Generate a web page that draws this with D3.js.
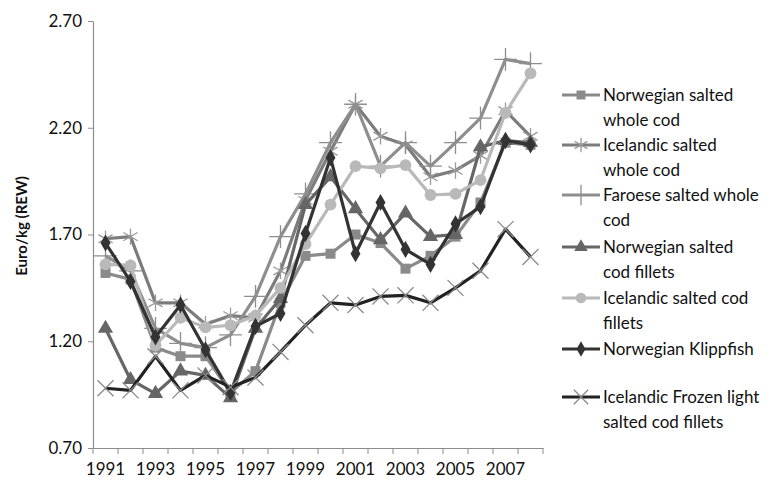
<!DOCTYPE html>
<html><head><meta charset="utf-8">
<script src="https://cdn.jsdelivr.net/npm/d3@7"></script>
<style>body{margin:0;background:#fff;} svg{display:block;}</style>
</head><body>
<svg id="chart" width="771" height="484"></svg>
<script>
const years = [1991,1992,1993,1994,1995,1996,1997,1998,1999,2000,2001,2002,2003,2004,2005,2006,2007,2008];
const yTicks = [0.70,1.20,1.70,2.20,2.70];
const xLabels = [1991,1993,1995,1997,1999,2001,2003,2005,2007];
const seriesNames = [
  ["Norwegian salted","whole cod"],
  ["Icelandic salted","whole cod"],
  ["Faroese salted whole","cod"],
  ["Norwegian salted","cod fillets"],
  ["Icelandic salted cod","fillets"],
  ["Norwegian Klippfish"],
  ["Icelandic Frozen light","salted cod fillets"]
];
const norWhole   = [1.52,1.49,1.17,1.13,1.13,0.96,1.06,1.38,1.60,1.61,1.70,1.66,1.54,1.60,1.69,1.85,2.13,2.12];
const iceWhole   = [1.68,1.69,1.38,1.38,1.28,1.32,1.31,1.53,1.86,2.09,2.31,2.16,2.12,1.97,2.00,2.07,2.28,2.16];
const faroese    = [1.60,1.53,1.26,1.19,1.17,1.23,1.41,1.69,1.89,2.13,2.31,2.02,2.13,2.02,2.13,2.245,2.52,2.50];
const norFillets = [1.26,1.02,0.955,1.06,1.04,0.935,1.26,1.40,1.84,1.97,1.82,1.675,1.80,1.69,1.70,2.11,2.14,2.13];
const iceFillets = [1.56,1.555,1.18,1.31,1.265,1.275,1.32,1.45,1.655,1.84,2.02,2.01,2.025,1.885,1.89,1.955,2.27,2.455];
const klippfish  = [1.66,1.48,1.22,1.37,1.16,0.96,1.27,1.33,1.705,2.06,1.61,1.85,1.63,1.56,1.75,1.83,2.14,2.12];
const frozen     = [0.98,0.97,1.13,0.97,1.04,0.985,1.03,1.15,1.275,1.38,1.37,1.41,1.415,1.38,1.45,1.53,1.725,1.595];

const seriesValues = [norWhole, iceWhole, faroese, norFillets, iceFillets, klippfish, frozen];
const styles = [
  {line:"#8a8a8a", mark:"#8a8a8a", sym:d3.symbolSquare, size:100, stroke:false},
  {line:"#7c7c7c", mark:"#9a9a9a", sym:d3.symbolAsterisk || d3.symbolCross, size:190, stroke:true},
  {line:"#8e8e8e", mark:"#8e8e8e", sym:d3.symbolPlus || d3.symbolCross, size:170, stroke:true},
  {line:"#666666", mark:"#666666", sym:d3.symbolTriangle, size:100, stroke:false},
  {line:"#b9b9b9", mark:"#b9b9b9", sym:d3.symbolCircle, size:110, stroke:false},
  {line:"#333333", mark:"#333333", sym:d3.symbolDiamond, size:85, stroke:false},
  {line:"#222222", mark:"#8a8a8a", sym:d3.symbolTimes || d3.symbolCross, size:170, stroke:true}
];

const svg = d3.select("#chart");
const font = "Lato, 'Open Sans', sans-serif";
const x = d3.scaleBand().domain(years).range([93,543]).padding(0);
const y = d3.scaleLinear().domain([0.7,2.7]).range([448,21]);
const cx = d => x(d) + x.bandwidth()/2;

// Y axis
const yAxis = svg.append("g").attr("transform","translate(93,0)")
  .call(d3.axisLeft(y).tickValues(yTicks).tickFormat(d3.format(".2f")).tickSize(5).tickSizeOuter(0));
yAxis.select(".domain").attr("stroke","#8c8c8c").attr("stroke-width",1.2);
yAxis.selectAll(".tick line").attr("stroke","#8c8c8c");
yAxis.selectAll(".tick text").attr("font-family",font).attr("font-size",17).attr("fill","#111").attr("x",-11);

// X axis
const xAxis = svg.append("g").attr("transform","translate(0,448)")
  .call(d3.axisBottom(x).tickValues(xLabels).tickSize(0).tickSizeOuter(0));
xAxis.select(".domain").attr("stroke","#8c8c8c").attr("stroke-width",1.2);
xAxis.selectAll(".tick text").attr("font-family",font).attr("font-size",17).attr("fill","#111").attr("dy","1.4em");
const bounds = years.map(d => x(d)).concat([x.range()[1]]);
svg.append("g").selectAll("line").data(bounds).join("line")
  .attr("x1",d=>d).attr("x2",d=>d).attr("y1",448).attr("y2",454)
  .attr("stroke","#8c8c8c");

// Axis title
svg.append("text").attr("transform","translate(27,226) rotate(-90)")
  .attr("text-anchor","middle").attr("font-family",font).attr("font-weight","bold")
  .attr("font-size",15).attr("fill","#111").text("Euro/kg (REW)");

// Series
const line = d3.line().x((d,i)=>cx(years[i])).y(d=>y(d));
seriesValues.forEach((vals,k)=>{
  const st = styles[k];
  const g = svg.append("g");
  g.append("path").datum(vals).attr("d",line).attr("fill","none")
    .attr("stroke",st.line).attr("stroke-width",3.2).attr("stroke-linejoin","round");
  g.selectAll("path.m").data(vals).join("path").attr("class","m")
    .attr("transform",(d,i)=>`translate(${cx(years[i])},${y(d)})`)
    .attr("d",d3.symbol().type(st.sym).size(st.size))
    .attr("fill",st.stroke?"none":st.mark)
    .attr("stroke",st.mark).attr("stroke-width",st.stroke?1.3:0);
});

// Legend
const legY = [95,145,195,247,298,349,397];
seriesNames.forEach((lines,k)=>{
  const st = styles[k];
  const g = svg.append("g").attr("transform",`translate(0,${legY[k]})`);
  g.append("line").attr("x1",562).attr("x2",600).attr("y1",0).attr("y2",0)
    .attr("stroke",st.line).attr("stroke-width",3);
  g.append("path").attr("transform","translate(581,0)")
    .attr("d",d3.symbol().type(st.sym).size(st.size*0.8))
    .attr("fill",st.stroke?"none":st.mark)
    .attr("stroke",st.mark).attr("stroke-width",st.stroke?1.3:0);
  lines.forEach((t,j)=>{
    g.append("text").attr("x",603).attr("y",j*25).attr("dy","0.35em")
      .attr("font-family",font).attr("font-size",17).attr("fill","#111").text(t);
  });
});
</script>
</body></html>
